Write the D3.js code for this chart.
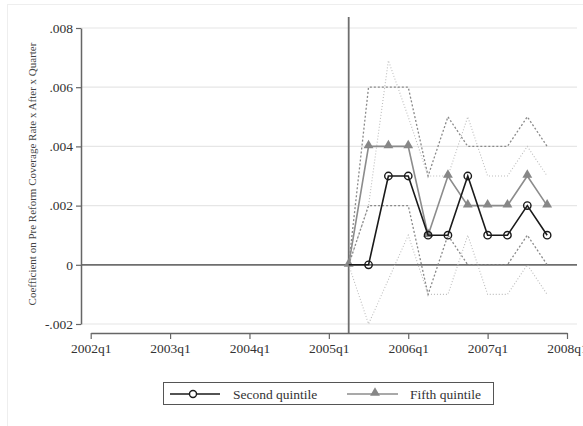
<!DOCTYPE html>
<html>
<head>
<meta charset="utf-8">
<script src="https://cdn.jsdelivr.net/npm/d3@7/dist/d3.min.js"></script>
<style>
  body { margin: 0; background: #fff; }
  svg { display: block; font-family: "Liberation Serif", "DejaVu Serif", serif; }
</style>
</head>
<body>
<svg id="chart" width="583" height="426"></svg>
<script>
// quarters after the reform (2005q2 is the reference quarter)
const quarters = ["2005q2", "2005q3", "2005q4", "2006q1", "2006q2", "2006q3",
  "2006q4", "2007q1", "2007q2", "2007q3", "2007q4"];

const secondQuintile = [0, 0, 0.003, 0.003, 0.001, 0.001, 0.003, 0.001, 0.001, 0.002, 0.001];
const secondUpper = [0, 0.002, 0.0069, 0.005, 0.003, 0.003, 0.005, 0.003, 0.003, 0.004, 0.003];
const secondLower = [0, -0.002, -0.0005, 0.001, -0.001, -0.001, 0.001, -0.001, -0.001, 0, -0.001];

const fifthQuintile = [0, 0.004, 0.004, 0.004, 0.001, 0.003, 0.002, 0.002, 0.002, 0.003, 0.002];
const fifthUpper = [0, 0.006, 0.006, 0.006, 0.003, 0.005, 0.004, 0.004, 0.004, 0.005, 0.004];
const fifthLower = [0, 0.002, 0.002, 0.002, -0.001, 0.001, 0, 0, 0, 0.001, 0];

const xTickLabels = ["2002q1", "2003q1", "2004q1", "2005q1", "2006q1", "2007q1", "2008q1"];
const yTicks = [-0.002, 0, 0.002, 0.004, 0.006, 0.008];
const yTickLabels = ["-.002", "0", ".002", ".004", ".006", ".008"];
const reformQuarter = "2005q2";

// turn "2005q2" into a quarter count
function qIndex(label) {
  const [yr, q] = label.split("q").map(Number);
  return yr * 4 + (q - 1);
}

const svg = d3.select("#chart");

// faint outer frame
svg.append("rect")
  .attr("x", 7.5).attr("y", 4.5)
  .attr("width", 600).attr("height", 440)
  .attr("fill", "none")
  .attr("stroke", "#eeeeee");

const x = d3.scaleLinear()
  .domain([qIndex("2002q1"), qIndex("2008q1")])
  .range([90.7, 567]);

const y = d3.scaleLinear()
  .domain([-0.002, 0.008])
  .range([324, 28]);

const plotLeft = 81, plotRight = 577, plotTop = 17, xAxisY = 333;

// horizontal grid lines
svg.append("g")
  .selectAll("line")
  .data(yTicks.filter((d) => d !== 0))
  .enter()
  .append("line")
  .attr("x1", plotLeft).attr("x2", plotRight)
  .attr("y1", (d) => y(d)).attr("y2", (d) => y(d))
  .attr("stroke", "#e6e6e6")
  .attr("stroke-width", 1.2);

// zero line
svg.append("line")
  .attr("x1", plotLeft).attr("x2", plotRight)
  .attr("y1", y(0)).attr("y2", y(0))
  .attr("stroke", "#6e6e6e")
  .attr("stroke-width", 1.8);

// reform quarter line
svg.append("line")
  .attr("x1", x(qIndex(reformQuarter))).attr("x2", x(qIndex(reformQuarter)))
  .attr("y1", plotTop).attr("y2", xAxisY)
  .attr("stroke", "#6e6e6e")
  .attr("stroke-width", 1.8);

// y axis
const yAxis = svg.append("g")
  .attr("transform", `translate(${plotLeft},0)`)
  .call(d3.axisLeft(y).tickValues(yTicks).tickSize(5).tickSizeOuter(0)
    .tickFormat((d, i) => yTickLabels[i]));
yAxis.select(".domain").attr("stroke", "#666").attr("stroke-width", 1.5);
yAxis.selectAll(".tick line").attr("stroke", "#666").attr("stroke-width", 1.2);
yAxis.selectAll(".tick text")
  .attr("font-family", "Liberation Serif, DejaVu Serif, serif")
  .attr("font-size", 13.5)
  .attr("fill", "#333")
  .attr("x", -8);

// x axis
const xAxis = svg.append("g")
  .attr("transform", `translate(0,${xAxisY})`)
  .call(d3.axisBottom(x).tickValues(xTickLabels.map(qIndex)).tickSize(6).tickSizeOuter(0)
    .tickFormat((d, i) => xTickLabels[i]));
xAxis.select(".domain").attr("stroke", "#666").attr("stroke-width", 1.5);
xAxis.selectAll(".tick line").attr("stroke", "#666").attr("stroke-width", 1.2);
xAxis.selectAll(".tick text")
  .attr("font-family", "Liberation Serif, DejaVu Serif, serif")
  .attr("font-size", 13.5)
  .attr("fill", "#333")
  .attr("y", 10);

// y axis title
svg.append("text")
  .attr("transform", "rotate(-90)")
  .attr("x", -174)
  .attr("y", 36)
  .attr("text-anchor", "middle")
  .attr("font-size", 11)
  .attr("fill", "#444")
  .text("Coefficient on Pre Reform Coverage Rate x After x Quarter");

const line = d3.line()
  .x((d) => x(d.q))
  .y((d) => y(d.v));

function series(values) {
  return quarters.map((q, i) => ({ q: qIndex(q), v: values[i] }));
}

// confidence bands
[secondUpper, secondLower].forEach((vals) => {
  svg.append("path")
    .datum(series(vals))
    .attr("d", line)
    .attr("fill", "none")
    .attr("stroke", "#bdbdbd")
    .attr("stroke-width", 1.1)
    .attr("stroke-dasharray", "1,2");
});
[fifthUpper, fifthLower].forEach((vals) => {
  svg.append("path")
    .datum(series(vals))
    .attr("d", line)
    .attr("fill", "none")
    .attr("stroke", "#8a8a8a")
    .attr("stroke-width", 1.3)
    .attr("stroke-dasharray", "2,2");
});

// fifth quintile
svg.append("path")
  .datum(series(fifthQuintile))
  .attr("d", line)
  .attr("fill", "none")
  .attr("stroke", "#8c8c8c")
  .attr("stroke-width", 1.6);

const tri = d3.symbol().type(d3.symbolTriangle).size(42);
svg.append("g")
  .selectAll("path")
  .data(series(fifthQuintile))
  .enter()
  .append("path")
  .attr("d", tri)
  .attr("transform", (d) => `translate(${x(d.q)},${y(d.v) - 1})`)
  .attr("fill", "#878787");

// second quintile
svg.append("path")
  .datum(series(secondQuintile))
  .attr("d", line)
  .attr("fill", "none")
  .attr("stroke", "#1a1a1a")
  .attr("stroke-width", 1.6);

svg.append("g")
  .selectAll("circle")
  .data(series(secondQuintile).slice(1))
  .enter()
  .append("circle")
  .attr("cx", (d) => x(d.q))
  .attr("cy", (d) => y(d.v))
  .attr("r", 3.7)
  .attr("fill", "none")
  .attr("stroke", "#1a1a1a")
  .attr("stroke-width", 1.4);

// legend
const legend = svg.append("g");
legend.append("rect")
  .attr("x", 163.5).attr("y", 382.5)
  .attr("width", 330).attr("height", 22)
  .attr("fill", "#fff")
  .attr("stroke", "#555")
  .attr("stroke-width", 1);

legend.append("line")
  .attr("x1", 170).attr("x2", 220).attr("y1", 394).attr("y2", 394)
  .attr("stroke", "#1a1a1a").attr("stroke-width", 1.6);
legend.append("circle")
  .attr("cx", 193).attr("cy", 394).attr("r", 3.5)
  .attr("fill", "#fff").attr("stroke", "#1a1a1a").attr("stroke-width", 1.4);
legend.append("text")
  .attr("x", 233).attr("y", 398.5)
  .attr("font-size", 13.5).attr("fill", "#333")
  .text("Second quintile");

legend.append("line")
  .attr("x1", 347).attr("x2", 398).attr("y1", 394).attr("y2", 394)
  .attr("stroke", "#8c8c8c").attr("stroke-width", 1.6);
legend.append("path")
  .attr("d", tri)
  .attr("transform", "translate(375,393)")
  .attr("fill", "#878787");
legend.append("text")
  .attr("x", 410).attr("y", 398.5)
  .attr("font-size", 13.5).attr("fill", "#333")
  .text("Fifth quintile");
</script>
</body>
</html>
